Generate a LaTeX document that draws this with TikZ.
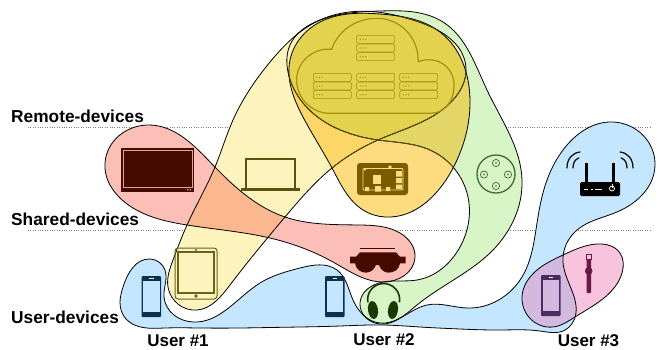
\documentclass[tikz,border=0pt]{standalone}
\usepackage{fontspec}
\usetikzlibrary{hobby}
\setmainfont{Liberation Sans}
\definecolor{cblue}{HTML}{C5E6FF}
\definecolor{cgreen}{HTML}{D8F5C8}
\definecolor{cyellow}{HTML}{FDF3BD}
\definecolor{cpink}{HTML}{FCBFB8}
\definecolor{corange}{HTML}{FDDC80}
\definecolor{cmag}{HTML}{F8C3DD}
\definecolor{cpy}{HTML}{FBB78E}
\definecolor{coy}{HTML}{FDD668}
\definecolor{cog}{HTML}{E3D666}
\definecolor{cogy}{HTML}{E3D24E}
\definecolor{cbm}{HTML}{D3B8E0}
\definecolor{inbrown}{HTML}{5A4A10}
\definecolor{tvdark}{HTML}{450A00}
\definecolor{tvline}{HTML}{E0A598}
\definecolor{lapcol}{HTML}{5A5010}
\definecolor{tabcol}{HTML}{6B6020}
\definecolor{navy}{HTML}{0D3050}
\definecolor{plum}{HTML}{4A2A60}
\definecolor{wine}{HTML}{6A1A4A}
\definecolor{hubcol}{HTML}{3F6A35}
\definecolor{phones}{HTML}{1A3A05}
\definecolor{picol}{HTML}{7A5C00}
\definecolor{cloudcol}{HTML}{A89010}
\tikzset{
  hb/.style={use Hobby shortcut,closed=true},
  outline/.style={hb,draw=black,line width=0.8pt},
  lab/.style={anchor=base west,inner sep=0pt,font=\fontsize{17.3}{17.3}\selectfont\bfseries},
  ulab/.style={anchor=base,inner sep=0pt,font=\fontsize{17}{17}\selectfont\bfseries},
  level/.style={draw=black!50,line width=0.7pt,dash pattern=on 0.8pt off 1.6pt},
  srv/.style={draw=cloudcol,line width=0.55pt,rounded corners=1.5pt},
}
\newcommand{\pblue}{(120,302) .. (126,319) .. (143,327.5) .. (165,328) .. (200,328) .. (240,328) .. (270,327.5) .. (300,327) .. (340,326) .. (383,325) .. (420,327) .. (460,329) .. (500,330) .. (540,331) .. (563,331) .. (574,320) .. (563,262) .. (577,230) .. (617,212) .. (655,165) .. (613,122) .. (563,150) .. (547,180) .. (537,223) .. (522,277) .. (467,308) .. (427,305) .. (380,323) .. (353,300) .. (337,270) .. (300,268) .. (260,283) .. (193,322) .. (164,297) .. (165,270) .. (150,259) .. (123,287)}
\newcommand{\pgreen}{(380,324) .. (417,305) .. (493,250) .. (522,180) .. (487,90) .. (443,22) .. (380,11) .. (320,20) .. (290,45) .. (288,72) .. (303,103) .. (378,140) .. (430,150) .. (468,197) .. (460,247) .. (417,280) .. (383,282) .. (360,303)}
\newcommand{\ppink}{(105,163) .. (150,125) .. (213,165) .. (285,217) .. (360,225) .. (400,233) .. (415,257) .. (383,282) .. (333,262) .. (270,238) .. (187,225) .. (133,208)}
\newcommand{\pyellow}{(197,310) .. (230,285) .. (285,217) .. (332,168) .. (378,140) .. (453,100) .. (466,68) .. (413,20) .. (377,12) .. (320,20) .. (270,62) .. (233,120) .. (215,167) .. (187,225) .. (173,260) .. (168,287)}
\newcommand{\porange}{(385,217) .. (452,170) .. (470,100) .. (440,32) .. (380,14) .. (320,22) .. (290,60) .. (303,117) .. (332,168) .. (363,210)}
\newcommand{\pmag}{(522,297) .. (553,327) .. (575,317) .. (622,273) .. (620,253) .. (597,244) .. (563,255) .. (537,270)}
\newcommand{\srvbox}[2]{%
  \draw[srv] (#1,#2) rectangle ++(38,8);
  \foreach \dd in {3.5,6.2,8.9}{\fill[cloudcol] (#1+\dd,#2+4) circle (0.7);}
}
\newcommand{\srvstack}[2]{\srvbox{#1}{#2}\srvbox{#1}{#2+8.7}\srvbox{#1}{#2+17.4}}
\newcommand{\phoneicon}[4]{%
  \fill[#3,rounded corners=1pt] (#1,#2) rectangle ++(19.5,41);
  \fill[#4] (#1+1.5,#2+5) rectangle ++(16.5,31);
  \draw[white,line width=0.6pt] (#1+7.5,#2+2.7) -- ++(4.5,0);
}
\begin{document}
\begin{tikzpicture}[x=1pt,y=-1pt]
\useasboundingbox (0,0) rectangle (657,349);
\fill[white] (0,0) rectangle (657,349);
% level lines
\draw[level] (28,127) -- (650,127);
\draw[level] (28,230) -- (650,230);
% region fills
\fill[hb,cblue] \pblue;
\fill[hb,cgreen] \pgreen;
\fill[hb,cpink] \ppink;
\fill[hb,cyellow] \pyellow;
\fill[hb,corange] \porange;
\fill[hb,cmag] \pmag;
\begin{scope}\clip[hb] \pyellow; \fill[hb,cpy] \ppink; \end{scope}
\begin{scope}\clip[hb] \porange; \fill[hb,coy] \pyellow; \end{scope}
\begin{scope}\clip[hb] \porange; \fill[hb,cog] \pgreen; \end{scope}
\begin{scope}\clip[hb] \porange; \clip[hb] \pyellow; \fill[hb,cogy] \pgreen; \end{scope}
\begin{scope}\clip[hb] \pblue; \fill[hb,cbm] \pmag; \end{scope}
% outlines
\draw[outline] \pblue;
\draw[outline] \pgreen;
\draw[outline] \ppink;
\draw[outline] \pyellow;
\draw[outline] \porange;
\draw[outline] \pmag;
\begin{scope}\clip[hb] \porange;
\draw[hb,draw=inbrown,line width=0.8pt] \pyellow;
\draw[hb,draw=inbrown,line width=0.8pt] \pgreen;
\end{scope}
% cloud
\begin{scope}[shift={(270,0)},x=0.3333pt,y=-0.3333pt]
\draw[cloudcol,line width=1.2pt] (180,340) .. controls (125,340) and (80,295) .. (80,240) .. controls (80,185) and (130,142) .. (185,148) .. controls (205,90) and (260,55) .. (320,55) .. controls (390,55) and (445,110) .. (445,185) .. controls (500,165) and (552,200) .. (552,255) .. controls (552,305) and (525,340) .. (480,340) -- cycle;
\end{scope}
\srvstack{356.7}{35.3}
\srvstack{313.3}{73.3}
\srvstack{356.7}{73.3}
\srvstack{399.7}{73.3}
% TV
\fill[tvdark] (121,148) rectangle (194,192);
\draw[tvline,line width=0.6pt] (123.5,150) rectangle (192,187);
\fill[tvline] (187,189) rectangle (188.3,190.3) (189.5,189) rectangle (190.8,190.3);
% laptop
\draw[lapcol,line width=2.5pt] (246,189) -- (246,159) -- (295,159) -- (295,189);
\draw[lapcol,line width=2.6pt] (241,189.5) -- (300,189.5);
% tablet
\draw[tabcol,line width=1pt,rounded corners=3pt] (175,248) rectangle (217,299);
\draw[tabcol,line width=1.1pt] (178,252) rectangle (214,293);
\fill[tabcol] (196,250) circle (1.1) (196,296) circle (1.8);
% phones
\phoneicon{141.5}{276}{navy}{cblue}
\phoneicon{325}{276}{navy}{cblue}
\phoneicon{541}{275}{plum}{cbm}
% watch
\fill[wine,rounded corners=1pt] (586.5,259) rectangle (591,293);
\draw[wine,line width=0.7pt] (586.5,254.5) rectangle (591,259);
\fill[wine] (588.7,271) circle (3.8);
% router
\fill[black,rounded corners=1.5pt] (580,182) rectangle (620,196);
\draw[black,line width=3pt] (586.3,183) -- (586.3,163) (613.3,183) -- (613.3,163);
\draw[white,line width=1pt] (584,189) -- (588,189) (591,189) -- (593,189) (595,189) -- (602,189);
\draw[white,line width=0.8pt] (612,188.5) circle (2.5);
\draw[white,line width=0.8pt] (612,184) -- (612,188);
\draw[black,line width=1.2pt,line cap=round] (567,168) .. controls (567,159) and (572,153) .. (580,152);
\draw[black,line width=1.2pt,line cap=round] (573,168) .. controls (573,163) and (575,159) .. (579,158);
\draw[black,line width=1.2pt,line cap=round] (633,168) .. controls (633,159) and (628,153) .. (620,152);
\draw[black,line width=1.2pt,line cap=round] (627,168) .. controls (627,163) and (625,159) .. (621,158);
% hub
\draw[hubcol,line width=1.3pt] (496,174) circle (19);
\foreach \hx/\hy in {496/163,496/186,484/174.5,508/174.5}{
  \draw[hubcol,line width=0.7pt] (\hx,\hy) circle (3.6);
  \fill[hubcol] (\hx,\hy) circle (0.9);
}
% glasses
\begin{scope}[shift={(340,235)},x=0.3333pt,y=-0.3333pt]
\draw[tvdark,line width=0.8pt] (60,40) -- (165,40);
\fill[tvdark] (30,65) -- (48,65) -- (60,52) -- (168,52) -- (180,65) -- (197,65) -- (197,85) -- (180,85) .. controls (178,105) and (160,113) .. (145,113) .. controls (130,113) and (120,100) .. (117,90) -- (108,90) .. controls (104,102) and (92,113) .. (78,113) .. controls (62,113) and (47,102) .. (45,85) -- (30,85) -- cycle;
\end{scope}
% headphones
\draw[phones,line width=1.6pt] (367.9,302.3) arc[start angle=170,end angle=370,radius=16];
\fill[phones,rotate around={8:(373,310)}] (373,310) ellipse (5 and 9);
\fill[phones,rotate around={-8:(393,310)}] (393,310) ellipse (5 and 9);
% raspberry pi
\fill[picol,rounded corners=3pt] (357,163) rectangle (408,195);
\draw[corange,line width=0.8pt,rounded corners=1pt] (363,168.5) rectangle (403,190);
\fill[corange] (373,175) rectangle (381,183.5);
\fill[corange] (396,171) rectangle (402,176.5) (396,178) rectangle (402,183) (396,184.5) rectangle (402,189);
\fill[corange] (375,186) rectangle (381,191.5) (365,187) rectangle (369,191) (386,187) rectangle (390,191);
\fill[corange] (390,167) circle (1.8) (365,169.5) circle (1.2);
% texts
\node[lab] (remote) at (11,122) {Remote-devices};
\node[lab] (shared) at (11,225) {Shared-devices};
\node[lab] (userdev) at (11,323) {User-devices};
\node[ulab] (u1) at (178,346) {User \#1};
\node[ulab] (u2) at (384,345) {User \#2};
\node[ulab] (u3) at (588.5,346) {User \#3};
\end{tikzpicture}
\end{document}
